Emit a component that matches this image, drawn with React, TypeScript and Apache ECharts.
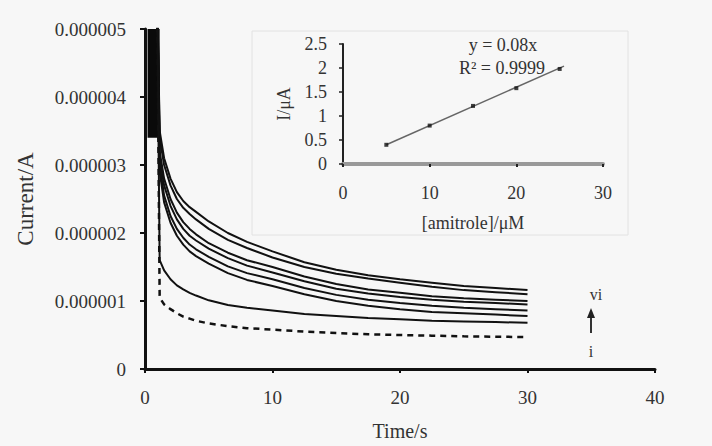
import React, { useEffect, useRef } from "react";
import * as echarts from "echarts";

// Time points (s) shared by every chronoamperometric trace
const times = [0.2, 0.95, 1.15, 1.5, 2, 2.5, 3, 3.5, 4, 5, 6.5, 8, 10, 12.5, 15, 17.5, 20, 22.5, 25, 27.5, 30];
// Currents in μA (first two points are the off-scale charging spike)
const traceA = [12, 5.6, 3.5, 3.1, 2.8, 2.6, 2.47, 2.38, 2.31, 2.17, 2.0, 1.87, 1.73, 1.57, 1.46, 1.38, 1.32, 1.27, 1.22, 1.19, 1.16];
const traceB = [12, 5.6, 3.4, 3.0, 2.7, 2.5, 2.37, 2.28, 2.2, 2.06, 1.9, 1.78, 1.64, 1.5, 1.4, 1.33, 1.27, 1.21, 1.16, 1.13, 1.1];
const traceC = [12, 5.6, 3.2, 2.8, 2.5, 2.3, 2.16, 2.06, 1.98, 1.85, 1.71, 1.6, 1.5, 1.36, 1.25, 1.17, 1.12, 1.07, 1.04, 1.02, 1.0];
const traceD = [12, 5.6, 3.1, 2.7, 2.4, 2.2, 2.06, 1.96, 1.89, 1.77, 1.63, 1.52, 1.42, 1.29, 1.18, 1.11, 1.06, 1.02, 0.99, 0.97, 0.95];
const traceE = [12, 5.6, 3.0, 2.55, 2.25, 2.06, 1.93, 1.83, 1.76, 1.65, 1.51, 1.41, 1.32, 1.19, 1.09, 1.02, 0.97, 0.93, 0.9, 0.88, 0.86];
const traceF = [12, 5.6, 2.9, 2.45, 2.15, 1.96, 1.83, 1.73, 1.66, 1.55, 1.41, 1.31, 1.22, 1.1, 1.0, 0.93, 0.88, 0.84, 0.82, 0.8, 0.78];
const traceG = [12, 5.6, 1.6, 1.45, 1.32, 1.23, 1.17, 1.12, 1.08, 1.01, 0.94, 0.9, 0.86, 0.81, 0.78, 0.75, 0.73, 0.71, 0.7, 0.69, 0.68];
const traceBlank = [12, 5.6, 1.05, 0.95, 0.88, 0.82, 0.77, 0.74, 0.71, 0.67, 0.63, 0.6, 0.58, 0.55, 0.53, 0.51, 0.5, 0.49, 0.48, 0.475, 0.47];
const solidTraces = [traceA, traceB, traceC, traceD, traceE, traceF, traceG];
// Spike region (s, μA)
const spikeTime = [0.2, 1.15];
const spikeCurrent = [3.4, 5];

// Main axis ticks
const mainXTicks = [0, 10, 20, 30, 40];
const mainYMaxA = 0.000005;
const mainYStepA = 0.000001;

// Inset calibration
const insetConc = [5, 10, 15, 20, 25];
const insetCurrent = [0.4, 0.8, 1.21, 1.58, 1.98];
const trendConc = [5, 25.5];
const trendCurrent = [0.4, 2.04];
const equationLines = ["y = 0.08x", "R² = 0.9999"];
const rangeLabels = ["vi", "i"];

const FONT = "'Liberation Serif', 'Times New Roman', serif";
const TXT = "#333";

export default function App() {
  const ref = useRef<HTMLDivElement>(null);
  useEffect(() => {
    if (!ref.current) return;
    const chart = echarts.init(ref.current, undefined, { renderer: "svg" });
    const toA = (arr: number[]) => arr.map((v, i) => [times[i], v * 1e-6]);

    const series: any[] = solidTraces.map((tr, idx) => ({
      type: "line",
      xAxisIndex: 0,
      yAxisIndex: 0,
      data: toA(tr),
      symbol: "none",
      smooth: false,
      clip: true,
      lineStyle: { color: "#111", width: 2 },
      z: 3,
      ...(idx === 0
        ? {
            markArea: {
              silent: true,
              itemStyle: { color: "#0a0a0a" },
              data: [
                [
                  { coord: [spikeTime[0], spikeCurrent[0] * 1e-6] },
                  { coord: [spikeTime[1], spikeCurrent[1] * 1e-6] },
                ],
              ],
            },
          }
        : {}),
    }));
    series.push({
      type: "line",
      xAxisIndex: 0,
      yAxisIndex: 0,
      data: toA(traceBlank),
      symbol: "none",
      smooth: false,
      clip: true,
      lineStyle: { color: "#111", width: 2.5, type: [6, 5] },
      z: 3,
    });
    series.push({
      type: "line",
      xAxisIndex: 1,
      yAxisIndex: 1,
      data: trendConc.map((c, i) => [c, trendCurrent[i]]),
      symbol: "none",
      lineStyle: { color: "#666", width: 1.5 },
      z: 3,
    });
    series.push({
      type: "scatter",
      xAxisIndex: 1,
      yAxisIndex: 1,
      data: insetConc.map((c, i) => [c, insetCurrent[i]]),
      symbol: "rect",
      symbolSize: 4,
      itemStyle: { color: "#111" },
      z: 4,
    });

    const labelStyle = { fontFamily: FONT, color: TXT, fontSize: 19 };

    chart.setOption({
      animation: false,
      backgroundColor: "#f7f7f7",
      grid: [
        { left: 145, right: 57, top: 29, bottom: 67 },
        { left: 343, right: 109, top: 44, bottom: 282 },
      ],
      xAxis: [
        {
          type: "value",
          gridIndex: 0,
          min: mainXTicks[0],
          max: mainXTicks[mainXTicks.length - 1],
          interval: 10,
          splitLine: { show: false },
          axisLine: { lineStyle: { color: "#111", width: 3 } },
          axisTick: { show: true, length: 4, lineStyle: { color: "#111", width: 2 } },
          axisLabel: { ...labelStyle, margin: 19 },
          name: "Time/s",
          nameLocation: "middle",
          nameGap: 52,
          nameTextStyle: { fontFamily: FONT, color: TXT, fontSize: 20 },
        },
        {
          type: "value",
          gridIndex: 1,
          min: 0,
          max: 30,
          interval: 10,
          splitLine: { show: false },
          axisLine: { lineStyle: { color: "#999", width: 4 } },
          axisTick: { show: true, length: 3, lineStyle: { color: "#222", width: 2 } },
          axisLabel: { ...labelStyle, fontSize: 18, margin: 20 },
          name: "[amitrole]/μM",
          nameLocation: "middle",
          nameGap: 50,
          nameTextStyle: { fontFamily: FONT, color: TXT, fontSize: 18 },
        },
      ],
      yAxis: [
        {
          type: "value",
          gridIndex: 0,
          min: 0,
          max: mainYMaxA,
          interval: mainYStepA,
          splitLine: { show: false },
          axisLine: { show: true, lineStyle: { color: "#111", width: 3 } },
          axisTick: { show: true, length: 5, lineStyle: { color: "#111", width: 2 } },
          axisLabel: {
            ...labelStyle,
            margin: 19,
            formatter: (v: number) => (Math.abs(v) < 1e-12 ? "0" : v.toFixed(6)),
          },
          name: "Current/A",
          nameLocation: "middle",
          nameGap: 108,
          nameTextStyle: { fontFamily: FONT, color: TXT, fontSize: 23 },
        },
        {
          type: "value",
          gridIndex: 1,
          min: 0,
          max: 2.5,
          interval: 0.5,
          splitLine: { show: false },
          axisLine: { show: true, lineStyle: { color: "#222", width: 2 } },
          axisTick: { show: true, length: 4, lineStyle: { color: "#222", width: 1.5 } },
          axisLabel: { ...labelStyle, fontSize: 18, margin: 16 },
          name: "I/μA",
          nameLocation: "middle",
          nameGap: 50,
          nameTextStyle: { fontFamily: FONT, color: TXT, fontSize: 18 },
        },
      ],
      graphic: [
        {
          type: "rect",
          shape: { x: 252, y: 31, width: 376, height: 204 },
          style: { fill: "transparent", stroke: "#e2e2e2", lineWidth: 1 },
          silent: true,
        },
        {
          type: "text",
          x: 503,
          y: 45,
          style: { text: equationLines[0], fontFamily: FONT, fontSize: 18, fill: TXT, align: "center", verticalAlign: "middle" },
        },
        {
          type: "text",
          x: 502,
          y: 68,
          style: { text: equationLines[1], fontFamily: FONT, fontSize: 18, fill: TXT, align: "center", verticalAlign: "middle" },
        },
        {
          type: "text",
          x: 596,
          y: 294,
          style: { text: rangeLabels[0], fontFamily: FONT, fontSize: 16, fill: TXT, align: "center", verticalAlign: "middle" },
        },
        {
          type: "line",
          shape: { x1: 591, y1: 333, x2: 591, y2: 314 },
          style: { stroke: "#333", lineWidth: 2 },
        },
        {
          type: "polygon",
          shape: { points: [[591, 308], [587, 318], [595, 318]] },
          style: { fill: "#222" },
        },
        {
          type: "text",
          x: 591,
          y: 351,
          style: { text: rangeLabels[1], fontFamily: FONT, fontSize: 16, fill: TXT, align: "center", verticalAlign: "middle" },
        },
      ],
      series,
    });
    return () => chart.dispose();
  }, []);
  return (
    <div
      ref={ref}
      style={{ position: "fixed", left: 0, top: 0, width: 712, height: 446 }}
    />
  );
}
